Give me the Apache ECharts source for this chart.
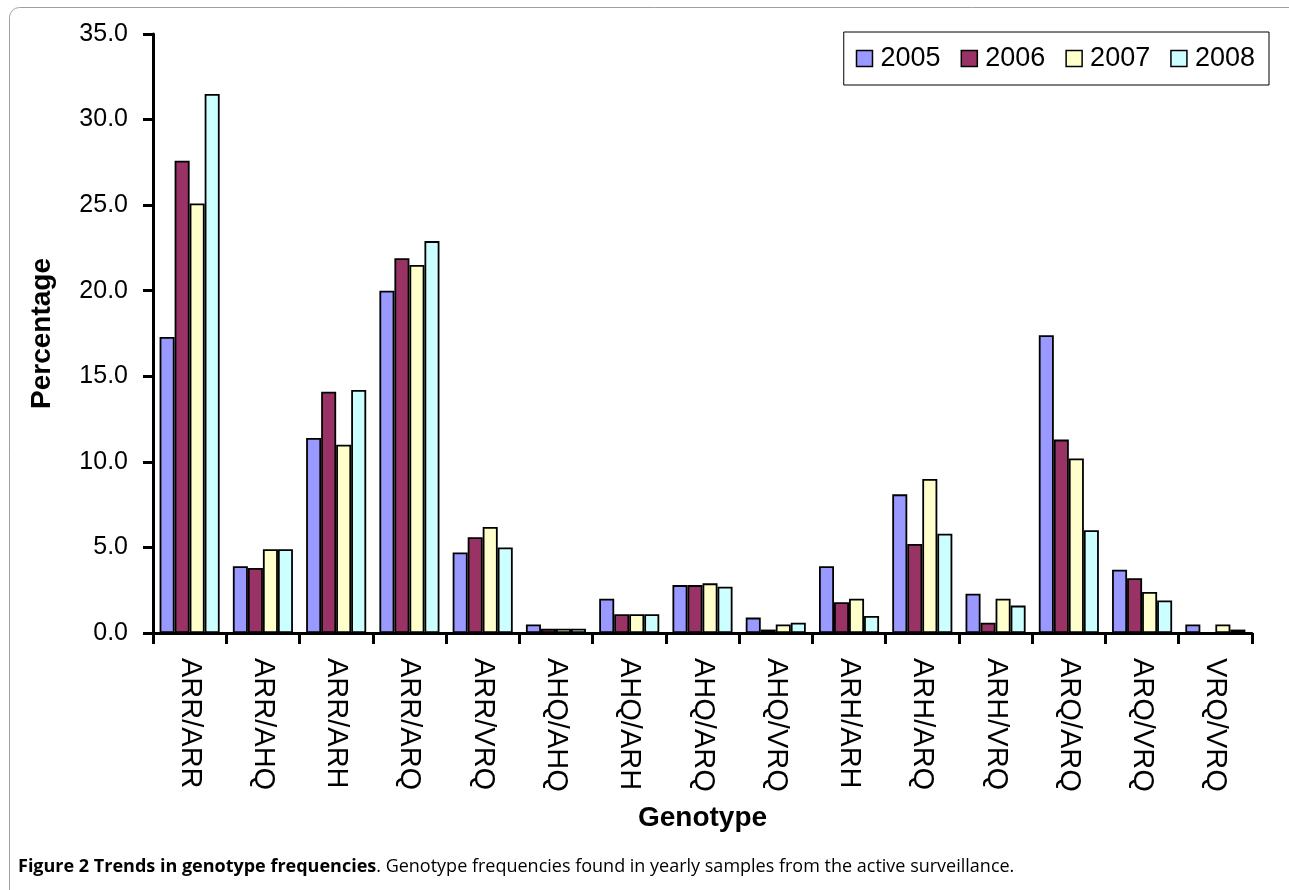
<!DOCTYPE html>
<html>
<head>
<meta charset="utf-8">
<script src="https://cdn.jsdelivr.net/npm/echarts@6/dist/echarts.min.js"></script>
<style>
html,body{margin:0;padding:0;background:#fff;}
#chart{width:1289px;height:890px;}
</style>
</head>
<body>
<div id="chart"></div>
<script>
const categories = ['ARR/ARR','ARR/AHQ','ARR/ARH','ARR/ARQ','ARR/VRQ','AHQ/AHQ','AHQ/ARH','AHQ/ARQ','AHQ/VRQ','ARH/ARH','ARH/ARQ','ARH/VRQ','ARQ/ARQ','ARQ/VRQ','VRQ/VRQ'];
const years = ['2005','2006','2007','2008'];
const v2005 = [17.3, 3.9, 11.4, 20.0, 4.7, 0.5, 2.0, 2.8, 0.9, 3.9, 8.1, 2.3, 17.4, 3.7, 0.5];
const v2006 = [27.6, 3.8, 14.1, 21.9, 5.6, 0.25, 1.1, 2.8, 0.2, 1.8, 5.2, 0.6, 11.3, 3.2, 0.0];
const v2007 = [25.1, 4.9, 11.0, 21.5, 6.2, 0.25, 1.1, 2.9, 0.5, 2.0, 9.0, 2.0, 10.2, 2.4, 0.5];
const v2008 = [31.5, 4.9, 14.2, 22.9, 5.0, 0.25, 1.1, 2.7, 0.6, 1.0, 5.8, 1.6, 6.0, 1.9, 0.2];
const colors = ['#9999FF','#993366','#FFFFCC','#CCFFFF'];
const seriesValues = [v2005, v2006, v2007, v2008];

const font = 'Arial, "Liberation Sans", sans-serif';
const chart = echarts.init(document.getElementById('chart'), null, {renderer:'canvas'});
chart.setOption({
  animation: false,
  textStyle: {fontFamily: font, color:'#000'},
  grid: {left:153, right:37, top:34, bottom:257, containLabel:false},
  legend: {
    right: 20, top: 32,
    padding: [13, 14, 13, 12],
    borderColor: '#000', borderWidth: 1,
    itemWidth: 16, itemHeight: 16, itemGap: 20,
    icon: 'rect',
    textStyle: {fontSize: 27, fontFamily: font, color:'#000', padding:[0,0,0,3]},
    itemStyle: {borderColor:'#000', borderWidth:1.5},
    data: years
  },
  xAxis: {
    type: 'category',
    data: categories,
    name: 'Genotype',
    nameLocation: 'middle',
    nameGap: 171,
    nameTextStyle: {fontSize: 28, fontWeight:'bold', fontFamily: font, color:'#000'},
    axisLine: {lineStyle:{color:'#000', width:3}},
    axisTick: {show:true, length:11, lineStyle:{color:'#000', width:3}, alignWithLabel:false},
    axisLabel: {rotate:-90, fontSize:29, margin:25, color:'#000', fontFamily: font, interval:0},
    splitLine: {show:false}
  },
  yAxis: {
    type: 'value',
    min: 0, max: 35, interval: 5,
    name: 'Percentage',
    nameLocation: 'middle',
    nameGap: 97,
    nameTextStyle: {fontSize: 28, fontWeight:'bold', fontFamily: font, color:'#000'},
    axisLine: {show:true, lineStyle:{color:'#000', width:3}},
    axisTick: {show:true, length:10, lineStyle:{color:'#000', width:3}},
    axisLabel: {fontSize:25, margin:25, color:'#000', fontFamily: font, formatter: v => v.toFixed(1)},
    splitLine: {show:false}
  },
  series: years.map((y, i) => ({
    name: y,
    type: 'bar',
    data: seriesValues[i],
    barGap: '0%',
    barCategoryGap: '18%',
    itemStyle: {color: colors[i], borderColor:'#000', borderWidth:1.8}
  })),
  graphic: [
    {type:'rect', shape:{x:9.5, y:7.5, width:1300, height:900, r:10}, style:{fill:'none', stroke:'#a0a0a0', lineWidth:1}, silent:true, z:-10},
    {type:'text', left:18, top:858, style:{
      text: '{b|Figure 2 Trends in genotype frequencies}{n|. Genotype frequencies found in yearly samples from the active surveillance.}',
      rich: {
        b: {fontFamily:'"Open Sans", "Noto Sans", sans-serif', fontWeight:'bold', fontSize:18, fill:'#000'},
        n: {fontFamily:'"Open Sans", "Noto Sans", sans-serif', fontSize:18, fill:'#000'}
      }
    }}
  ]
});
</script>
</body>
</html>
